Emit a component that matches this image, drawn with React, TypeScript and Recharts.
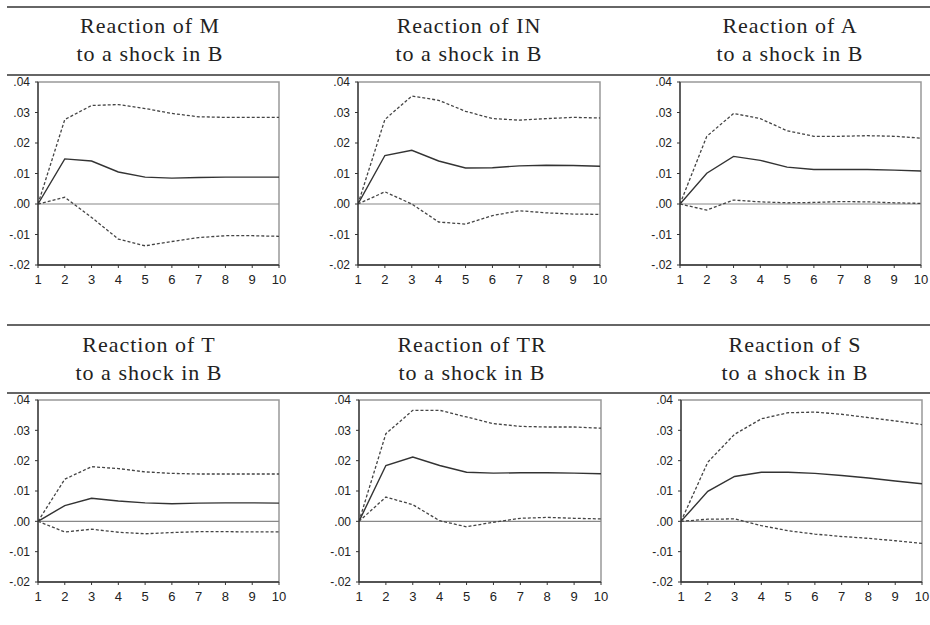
import { LineChart, Line, XAxis, YAxis, ReferenceLine, ReferenceArea } from "recharts";

// horizon (periods after the shock)
const horizons = [1, 2, 3, 4, 5, 6, 7, 8, 9, 10];
const yTicks = [-0.02, -0.01, 0, 0.01, 0.02, 0.03, 0.04];

const titlesTop = ["Reaction of M", "Reaction of IN", "Reaction of A", "Reaction of T", "Reaction of TR", "Reaction of S"];
const titleBottom = "to a shock in B";

// impulse responses: point estimate and +/- 2 s.e. bands
const mUpper = [0, 0.0277, 0.0323, 0.0326, 0.0313, 0.0297, 0.0286, 0.0284, 0.0284, 0.0284];
const mMid = [0, 0.0148, 0.0141, 0.0105, 0.0088, 0.0085, 0.0087, 0.0088, 0.0088, 0.0088];
const mLower = [0, 0.0022, -0.0044, -0.0115, -0.0137, -0.0123, -0.011, -0.0104, -0.0104, -0.0106];

const inUpper = [0, 0.0277, 0.0354, 0.034, 0.0304, 0.028, 0.0275, 0.028, 0.0284, 0.0282];
const inMid = [0, 0.0159, 0.0176, 0.0141, 0.0118, 0.0119, 0.0125, 0.0127, 0.0126, 0.0124];
const inLower = [0, 0.004, 0.0, -0.0059, -0.0066, -0.0038, -0.0022, -0.0029, -0.0033, -0.0034];

const aUpper = [0, 0.0222, 0.0297, 0.028, 0.024, 0.0222, 0.0222, 0.0224, 0.0222, 0.0216];
const aMid = [0, 0.0101, 0.0156, 0.0143, 0.0121, 0.0113, 0.0113, 0.0113, 0.0111, 0.0108];
const aLower = [0, -0.002, 0.0013, 0.0007, 0.0004, 0.0005, 0.0008, 0.0007, 0.0004, 0.0002];

const tUpper = [0, 0.0139, 0.018, 0.0174, 0.0163, 0.0158, 0.0156, 0.0156, 0.0156, 0.0156];
const tMid = [0, 0.0052, 0.0076, 0.0067, 0.0061, 0.0058, 0.006, 0.0061, 0.0061, 0.006];
const tLower = [0, -0.0035, -0.0026, -0.0036, -0.0041, -0.0037, -0.0034, -0.0034, -0.0035, -0.0035];

const trUpper = [0, 0.0289, 0.0366, 0.0366, 0.0344, 0.0322, 0.0313, 0.0311, 0.0311, 0.0307];
const trMid = [0, 0.0184, 0.0212, 0.0184, 0.0162, 0.0159, 0.016, 0.016, 0.0159, 0.0157];
const trLower = [0, 0.008, 0.0055, 0.0002, -0.0018, -0.0003, 0.001, 0.0013, 0.001, 0.0008];

const sUpper = [0, 0.0195, 0.0287, 0.0338, 0.0358, 0.036, 0.0353, 0.0342, 0.0331, 0.0319];
const sMid = [0, 0.0099, 0.0148, 0.0162, 0.0162, 0.0158, 0.0151, 0.0143, 0.0133, 0.0124];
const sLower = [0, 0.0007, 0.0008, -0.0014, -0.0031, -0.0042, -0.005, -0.0056, -0.0064, -0.0073];

const seriesSets = [
  [mUpper, mMid, mLower],
  [inUpper, inMid, inLower],
  [aUpper, aMid, aLower],
  [tUpper, tMid, tLower],
  [trUpper, trMid, trLower],
  [sUpper, sMid, sLower],
];

// plot box of each panel (left, right, top, bottom) and title centre
const layout = [
  { pl: 38, pr: 279, pt: 82, pb: 265, cx: 150, ty: 12 },
  { pl: 358, pr: 600, pt: 82, pb: 265, cx: 469, ty: 12 },
  { pl: 680, pr: 921, pt: 82, pb: 265, cx: 790, ty: 12 },
  { pl: 38, pr: 279, pt: 400, pb: 582, cx: 149, ty: 331 },
  { pl: 359, pr: 601, pt: 400, pb: 582, cx: 472, ty: 331 },
  { pl: 681, pr: 922, pt: 400, pb: 582, cx: 795, ty: 331 },
];

const ruleYs = [7, 75, 325, 393];

const fmtY = (v: number) => (v === 0 ? ".00" : v.toFixed(2).replace("0.", "."));

const sansFamily = "'Liberation Sans', Arial, Helvetica, sans-serif";
const serifFamily = "'Liberation Serif', 'DejaVu Serif', 'Times New Roman', serif";

function Panel({ idx }: { idx: number }) {
  const L = layout[idx];
  const [upper, mid, lower] = seriesSets[idx];
  const data = horizons.map((h, i) => ({ h, upper: upper[i], mid: mid[i], lower: lower[i] }));
  const leftPad = 40;
  const topPad = 10;
  const rightPad = 12;
  const xAxisH = 30;
  const w = L.pr - L.pl + leftPad + rightPad;
  const h = L.pb - L.pt + topPad + xAxisH;
  return (
    <div style={{ position: "absolute", left: L.pl - leftPad, top: L.pt - topPad }}>
      <LineChart width={w} height={h} data={data} margin={{ top: topPad, right: rightPad, left: 0, bottom: 0 }}>
        <ReferenceArea x1={1} x2={10} y1={-0.02} y2={0.04} fill="none" stroke="#999" strokeWidth={1.5} ifOverflow="visible" />
        <XAxis
          type="number"
          dataKey="h"
          domain={[1, 10]}
          ticks={horizons}
          interval={0}
          height={xAxisH}
          axisLine={{ stroke: "#333", strokeWidth: 1.3 }}
          tickLine={{ stroke: "#333" }}
          tickSize={3}
          tickMargin={7}
          fontSize={13}
          fontFamily={sansFamily}
          tick={{ fontSize: 13, fontFamily: sansFamily, fill: "#222" }}
          allowDataOverflow
        />
        <YAxis
          type="number"
          domain={[-0.02, 0.04]}
          ticks={yTicks}
          interval={0}
          width={leftPad}
          axisLine={{ stroke: "#333", strokeWidth: 1.3 }}
          tickLine={{ stroke: "#333" }}
          tickSize={3}
          tickMargin={5}
          tickFormatter={fmtY}
          fontSize={12}
          fontFamily={sansFamily}
          tick={{ fontSize: 12, fontFamily: sansFamily, fill: "#222" }}
          allowDataOverflow
        />
        <ReferenceLine y={0} stroke="#888" strokeWidth={1.2} />
        <Line type="linear" dataKey="upper" stroke="#444" strokeWidth={1.3} strokeDasharray="3 2" dot={false} isAnimationActive={false} />
        <Line type="linear" dataKey="mid" stroke="#333" strokeWidth={1.4} dot={false} isAnimationActive={false} />
        <Line type="linear" dataKey="lower" stroke="#444" strokeWidth={1.3} strokeDasharray="3 2" dot={false} isAnimationActive={false} />
      </LineChart>
    </div>
  );
}

export default function App() {
  return (
    <div style={{ position: "absolute", left: 0, top: 0, width: 930, height: 625, background: "#fff", overflow: "hidden" }}>
      {ruleYs.map((y) => (
        <div key={y} style={{ position: "absolute", left: 7, top: y - 1, width: 923, height: 2, background: "#666" }} />
      ))}
      {layout.map((L, i) => (
        <div
          key={`t${i}`}
          style={{
            position: "absolute",
            left: L.cx - 150,
            top: L.ty,
            width: 300,
            textAlign: "center",
            fontFamily: serifFamily,
            fontSize: 22,
            letterSpacing: 1,
            lineHeight: "28px",
            color: "#222",
          }}
        >
          <div>{titlesTop[i]}</div>
          <div>{titleBottom}</div>
        </div>
      ))}
      {layout.map((_, i) => (
        <Panel key={i} idx={i} />
      ))}
    </div>
  );
}
